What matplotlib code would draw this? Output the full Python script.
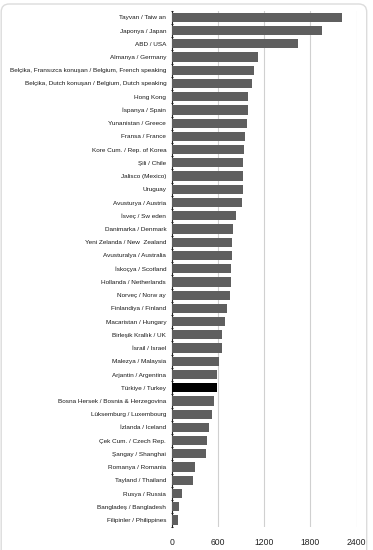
import matplotlib
matplotlib.use("Agg")
import matplotlib.pyplot as plt
from matplotlib.patches import FancyBboxPatch

countries = [
    "Tayvan / Taiw an", "Japonya / Japan", "ABD / USA", "Almanya / Germany",
    "Belçika, Fransızca konuşan / Belgium, French speaking",
    "Belçika, Dutch konuşan / Belgium, Dutch speaking",
    "Hong Kong", "İspanya / Spain", "Yunanistan / Greece", "Fransa / France",
    "Kore Cum. / Rep. of Korea", "Şili / Chile", "Jalisco (Mexico)", "Uruguay",
    "Avusturya / Austria", "İsveç / Sw eden", "Danimarka / Denmark",
    "Yeni Zelanda / New  Zealand", "Avusturalya / Australia", "İskoçya / Scotland",
    "Hollanda / Netherlands", "Norveç / Norw ay", "Finlandiya / Finland",
    "Macaristan / Hungary", "Birleşik Krallık / UK", "İsrail / Israel",
    "Malezya / Malaysia", "Arjantin / Argentina", "Türkiye / Turkey",
    "Bosna Hersek / Bosnia & Herzegovina", "Lüksemburg / Luxembourg",
    "İzlanda / Iceland", "Çek Cum. / Czech Rep.", "Şangay / Shanghai",
    "Romanya / Romania", "Tayland / Thailand", "Rusya / Russia",
    "Bangladeş / Bangladesh", "Filipinler / Philippines",
]
values = [2213, 1950, 1634, 1116, 1068, 1038, 990, 990, 981, 955,
          942, 925, 925, 925, 908, 838, 791, 778, 778, 769,
          769, 752, 722, 696, 657, 649, 610, 592, 588,
          549, 519, 488, 462, 445, 307, 281, 134, 95, 86]
highlight = "Türkiye / Turkey"
x_ticks = [0, 600, 1200, 1800, 2400]

plt.rcParams['font.family'] = ['Liberation Sans', 'DejaVu Sans']

fig = plt.figure(figsize=(3.73, 5.5), dpi=100)
border = FancyBboxPatch((0.012, -0.2), 3.655, 5.66,
                        boxstyle="round,pad=0,rounding_size=0.08",
                        transform=fig.dpi_scale_trans, facecolor="none",
                        edgecolor="#dcdcdc", linewidth=1.0, zorder=-1)
fig.patches.append(border)

ax = fig.add_axes([0.4603, 0.0425, 0.496, 0.938])
ax.set_facecolor("none")
n = len(countries)
ypos = list(range(n))
colors = ["#000000" if c == highlight else "#5f5f5f" for c in countries]
ax.barh(ypos, values, height=0.70, color=colors, zorder=3)
ax.set_ylim(n - 0.5, -0.5)
ax.set_xlim(0, 2400)
ax.set_yticks(ypos)
ax.set_yticklabels(countries, fontsize=4.6, color="#1a1a1a")
ax.set_yticks([k + 0.5 for k in range(-1, n)], minor=True)
ax.tick_params(axis='y', which='major', length=0, pad=4)
ax.tick_params(axis='y', which='minor', length=2.0, direction='inout', width=0.6)
ax.set_xticks(x_ticks)
ax.set_xticklabels([str(v) for v in x_ticks], fontsize=6.2, color="#222222")
ax.tick_params(axis='x', length=0, pad=8)
ax.grid(axis='x', color="#d0d0d0", linewidth=0.8, zorder=0)
for s in ["top", "right", "bottom"]:
    ax.spines[s].set_visible(False)
ax.spines["left"].set_linewidth(0.8)
ax.spines["left"].set_color("#222222")

fig.savefig("out.png", dpi=100)
